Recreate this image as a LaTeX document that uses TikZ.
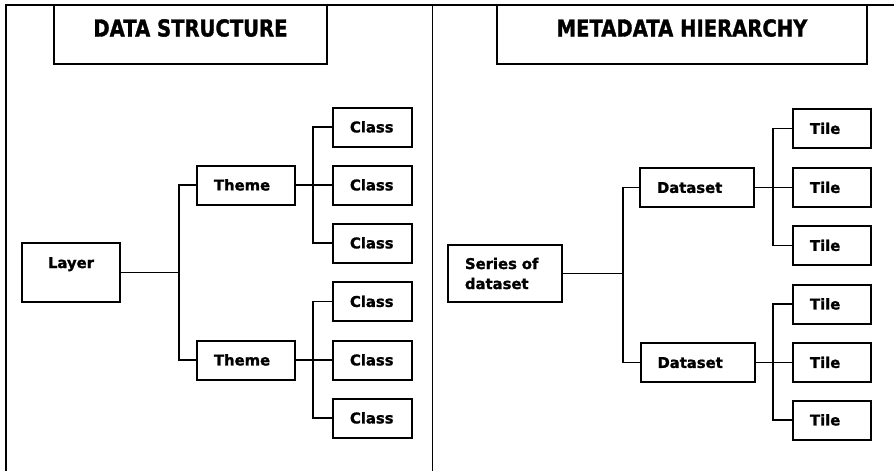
\documentclass[tikz,border=0pt]{standalone}
\usepackage{fontspec}
\setmainfont{DejaVu Sans}
\newfontfamily\cellfont{DejaVu Sans}[BoldFeatures={FakeBold=1.3}]
\newfontfamily\headfont{DejaVu Sans}[FakeStretch=0.84,BoldFeatures={FakeBold=1.3}]
\tikzset{
	box/.style={draw,line width=2pt,inner ysep=0pt,inner xsep=17pt,align=left,
		font=\cellfont\bfseries\fontsize{14.8}{20}\selectfont},
	cell/.style={box,text height=10.8pt,text depth=0pt,minimum height=39pt},
	headbox/.style={draw,line width=2pt,inner sep=0pt,
		font=\headfont\bfseries\fontsize{23.3}{28}\selectfont,
		text height=31.5pt,text depth=27.5pt},
	link/.style={line width=1.8pt}
}
\begin{document}
\begin{tikzpicture}[x=1pt,y=-1pt]
\useasboundingbox (0,0) rectangle (894,471);
% Draw frame
\draw[link] (6,471) -- (6,5) -- (894,5);
\draw[link] (432.5,5) -- (432.5,471);
% Draw headings
\node[headbox,minimum width=273pt] (headdata) at (190.5,34.5) {DATA STRUCTURE};
\node[headbox,minimum width=370pt] (headmeta) at (682,34.5) {METADATA HIERARCHY};
% Draw data structure
\node[box,text width=64pt,align=center,text height=25pt,text depth=34pt] (layer) at (71,272.5) {Layer};
\foreach \n/\y in {1/185,2/360}
	\node[cell,text width=64pt] (theme\n) at (246,\y) {Theme};
\foreach \n/\y in {1/127,2/185,3/243,4/301.5,5/360,6/418}
	\node[cell,text width=45pt] (class\n) at (372.5,\y) {Class};
\draw[link] (layer.east) -- ++(58,0) coordinate (layerjoin);
\draw[link] (theme1.west) -| (layerjoin) |- (theme2.west);
\foreach \t/\a/\b/\c in {1/1/2/3,2/4/5/6} {
	\draw[link] (theme\t.east) -- (class\b.west);
	\draw[link] (class\a.west) -- ++(-19,0) |- (class\c.west);
}
% Draw metadata hierarchy
\node[box,text width=80pt,minimum height=57pt] (series) at (505,273.5) {Series of\\dataset};
\node[cell,text width=80pt] (dataset1) at (697,187.5) {Dataset};
\node[cell,text width=80pt] (dataset2) at (697.5,362.5) {Dataset};
\foreach \n/\y in {1/128.5,2/187.5,3/245.5,4/304,5/362.5,6/420}
	\node[cell,text width=44pt] (tile\n) at (832,\y) {Tile};
\draw[link] (series.east) -- ++(60,0) coordinate (seriesjoin);
\draw[link] (dataset1.west) -| (seriesjoin) |- (dataset2.west);
\foreach \d/\a/\b/\c in {1/1/2/3,2/4/5/6} {
	\draw[link] (dataset\d.east) -- (tile\b.west);
	\draw[link] (tile\a.west) -- ++(-19,0) |- (tile\c.west);
}
\end{tikzpicture}
\end{document}
